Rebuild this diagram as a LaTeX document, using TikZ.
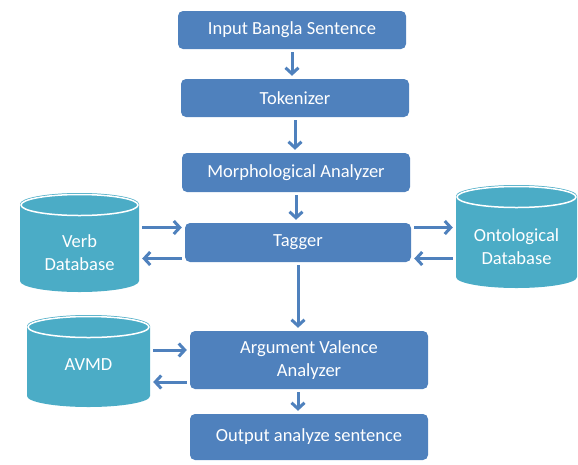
\documentclass[tikz,border=0pt]{standalone}
\usepackage{fontspec}
\setmainfont{Carlito}
\usetikzlibrary{calc,arrows.meta}
\definecolor{boxblue}{HTML}{4F81BD}
\definecolor{dbteal}{HTML}{4BACC6}
\begin{document}
\begin{tikzpicture}[x=1pt,y=-1pt,
    stage/.style={rectangle,rounded corners=5pt,fill=boxblue,text=white,inner sep=0pt,
      font=\fontsize{18.5pt}{23pt}\selectfont,align=center},
    db/.style={rectangle,inner sep=0pt,text=white,font=\fontsize{18.5pt}{23pt}\selectfont,align=center,
      path picture={
        \fill[dbteal] let \p1=(path picture bounding box.north west),
            \p2=(path picture bounding box.south east), \n1={(\x2-\x1)/2} in
          (\x1,\y1-11pt) rectangle (\x2,\y2+#1+11pt)
          (\x1+\n1,\y1-11pt) ellipse [x radius={\n1*1pt},y radius=11pt]
          (\x1+\n1,\y2+#1+11pt) ellipse [x radius={\n1*1pt},y radius=11pt];
        \draw[white,line width=1.5pt] let \p1=(path picture bounding box.north west),
            \p2=(path picture bounding box.south east), \n1={(\x2-\x1)/2} in
          (\x1+\n1,\y1-12pt) ellipse [x radius={\n1*1pt-1pt},y radius=10.5pt];
      }},
    flow/.style={-{Straight Barb[length=6pt,width=13pt]},draw=boxblue,line width=3pt,
      shorten <=3pt,shorten >=3pt}]
  \useasboundingbox (0,0) rectangle (578,464);
  \draw
    (292,30) node[stage,minimum width=228pt,minimum height=38pt] (in){Input Bangla Sentence}
    (295,98) node[stage,minimum width=228pt,minimum height=38pt] (tok){Tokenizer}
    (296,172.5) node[stage,minimum width=228pt,minimum height=39pt] (morph){Morphological Analyzer}
    (298,242.5) node[stage,minimum width=226pt,minimum height=39pt] (tag){Tagger}
    (309,360) node[stage,minimum width=238pt,minimum height=58pt] (ava){Argument Valence\\Analyzer}
    (309,437) node[stage,minimum width=238pt,minimum height=46pt] (out){Output analyze sentence}
    (79.5,252.5) node[db=20pt,minimum width=119pt,minimum height=119pt] (verb){Verb\\Database}
    (516.5,246.5) node[db=20pt,minimum width=121pt,minimum height=123pt] (onto){Ontological\\Database}
    (88.5,365) node[db=8pt,minimum width=123pt,minimum height=100pt] (avmd){AVMD};
  \begin{scope}[flow]
    \draw (in.south) to (in.south |- tok.north);
    \draw (tok.south) to (tok.south |- morph.north);
    \draw (morph.south) to (morph.south |- tag.north);
    \draw (tag.south) to (tag.south |- ava.north);
    \draw (tag.south |- ava.south) to (tag.south |- out.north);
    \draw ([yshift=15pt]tag.west -| verb.east) to ([yshift=15pt]tag.west);
    \draw ([yshift=-16pt]tag.west) to ([yshift=-16pt]tag.west -| verb.east);
    \draw ([yshift=15pt]tag.east) to ([yshift=15pt]tag.east -| onto.west);
    \draw ([yshift=-16pt]tag.east -| onto.west) to ([yshift=-16pt]tag.east);
    \draw ([yshift=10pt]ava.west -| avmd.east) to ([yshift=10pt]ava.west);
    \draw ([yshift=-22pt]ava.west) to ([yshift=-22pt]ava.west -| avmd.east);
  \end{scope}
\end{tikzpicture}
\end{document}
